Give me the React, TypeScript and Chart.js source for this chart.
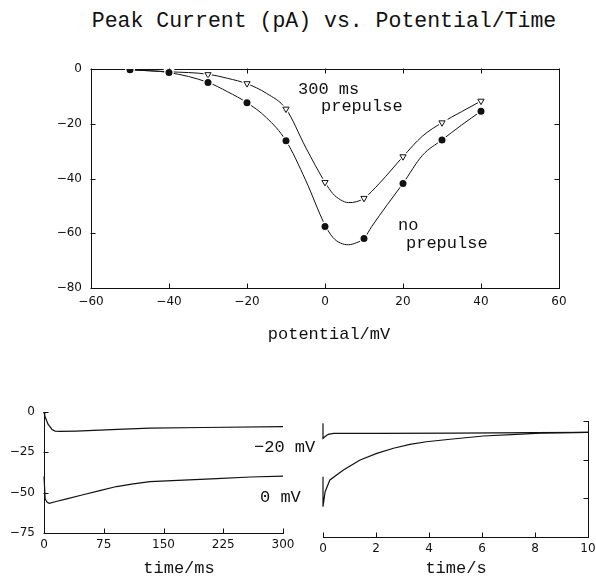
import React, { useEffect, useRef } from "react";
import { Chart, registerables } from "chart.js";
Chart.register(...registerables);

// ---------- Top panel: peak current vs potential ----------
const potentials = [-50, -40, -30, -20, -10, 0, 10, 20, 30, 40];
const noPrepulse = [-0.3, -1.3, -4.9, -12.3, -26.2, -57.5, -61.9, -41.8, -25.9, -15.4];
const prepulse300 = [-0.3, -1.0, -2.0, -5.3, -14.6, -41.4, -47.2, -32.0, -19.6, -11.7];

const noPrepulseFitX = [-50, -40, -30, -25, -20, -15, -10, -5, 0, 2, 4, 6, 8, 10, 12, 16, 20, 25, 30, 35, 40];
const noPrepulseFitY = [-0.3, -1.3, -4.9, -8.3, -12.3, -17.8, -26.2, -40.5, -57.0, -61.5, -63.6, -64.2, -63.5, -61.9, -57.5, -49.5, -41.8, -31.5, -25.9, -20.5, -15.4];
const prepulseFitX = [-50, -40, -30, -25, -20, -15, -10, -5, 0, 2, 4, 6, 8, 10, 14, 20, 25, 30, 35, 40];
const prepulseFitY = [-0.3, -1.0, -1.9, -3.4, -5.4, -8.9, -14.6, -28.5, -41.4, -45.5, -47.8, -48.8, -48.5, -47.2, -41.7, -32.0, -24.5, -19.6, -15.6, -11.7];

// ---------- Bottom-left panel: traces, time in ms ----------
const msTime20 = [0, 1, 3, 5, 7.5, 10, 14, 20, 40, 70, 100, 133, 200, 300];
const msCurrent20 = [0, -2.5, -5, -7.5, -9.1, -10.8, -11.8, -12, -11.8, -11.2, -10.6, -10, -9.6, -9.1];
const msTime0 = [0, 1.5, 4, 6.7, 15, 28.5, 49, 70, 91, 112, 133, 175, 217, 259, 300];
const msCurrent0 = [-40, -54, -56, -56.6, -55.5, -53.8, -51.3, -48.7, -46.2, -44.6, -43.2, -42.2, -41.3, -40.3, -39.7];

// ---------- Bottom-right panel: traces, time in s ----------
const sTime20 = [0, 0, 0.08, 0.2, 0.4, 2, 5, 8, 10];
const sCurrent20 = [-1.5, -11.2, -10, -8.6, -8, -8, -7.9, -7.5, -7.3];
const sTime0 = [0, 0, 0.08, 0.26, 0.77, 1.4, 2.03, 2.66, 3.28, 3.9, 4.8, 6.05, 7.3, 8.2, 10];
const sCurrent0 = [-36, -55.4, -45.7, -38.1, -31.7, -25.2, -20.9, -17.6, -15.1, -13.4, -11.8, -9.7, -8.6, -7.8, -7.3];

// tick labels
const topXTicks = [-60, -40, -20, 0, 20, 40, 60];
const topYTicks = [-80, -60, -40, -20, 0];
const msTicks = [0, 75, 150, 225, 300];
const sTicks = [0, 2, 4, 6, 8, 10];
const traceYTicks = [-75, -50, -25, 0];

const pts = (xs: number[], ys: number[]) => xs.map((x, i) => ({ x, y: ys[i] }));
const fmt = (v: number) => (v < 0 ? "\u2212" + Math.abs(v) : String(v));
const INK = "#111";
const TICK_FONT = { family: "'DejaVu Sans'", size: 12 };
const TICK_LEN = 5;

// draws short tick marks pointing into the plot area, at each tick of each scale
const inwardTicks = {
  id: "inwardTicks",
  afterDatasetsDraw(chart: any) {
    const ctx = chart.ctx;
    ctx.save();
    ctx.strokeStyle = INK;
    ctx.lineWidth = 1;
    ctx.beginPath();
    Object.values(chart.scales).forEach((s: any) => {
      if (!s.options.display) return;
      s.ticks.forEach((t: any) => {
        const p = Math.round(s.getPixelForValue(t.value)) + 0.5;
        if (s.position === "bottom") {
          const y = Math.round(s.top) + 0.5;
          ctx.moveTo(p, y);
          ctx.lineTo(p, y - TICK_LEN);
        } else if (s.position === "top") {
          const y = Math.round(s.bottom) - 0.5;
          ctx.moveTo(p, y);
          ctx.lineTo(p, y + TICK_LEN);
        } else if (s.position === "left") {
          const x = Math.round(s.right) - 0.5;
          ctx.moveTo(x, p);
          ctx.lineTo(x + TICK_LEN, p);
        } else {
          const x = Math.round(s.left) + 0.5;
          ctx.moveTo(x, p);
          ctx.lineTo(x - TICK_LEN, p);
        }
      });
    });
    ctx.stroke();
    ctx.restore();
  },
};

function axis(position: string, values: number[], showLabels: boolean, pad: number, size: number): any {
  const horizontal = position === "top" || position === "bottom";
  return {
    type: "linear",
    position,
    min: Math.min(...values),
    max: Math.max(...values),
    afterBuildTicks: (s: any) => {
      s.ticks = values.map((v) => ({ value: v }));
    },
    ticks: {
      display: showLabels,
      padding: pad,
      font: TICK_FONT,
      color: INK,
      autoSkip: false,
      maxRotation: 0,
      callback: (v: any) => fmt(Number(v)),
    },
    grid: { display: false, drawOnChartArea: false, drawTicks: false },
    border: { display: true, color: INK, width: 1 },
    afterFit: (s: any) => {
      if (horizontal) s.height = size;
      else s.width = size;
    },
  };
}

const baseOptions = (padding: any, scales: any): any => ({
  responsive: false,
  animation: false,
  events: [],
  layout: { padding, autoPadding: false },
  plugins: { legend: { display: false }, tooltip: { enabled: false }, title: { display: false } },
  scales,
});

const traceLine = (data: any[]) => ({
  data,
  showLine: true,
  borderColor: INK,
  borderWidth: 1.2,
  pointRadius: 0,
  tension: 0,
  clip: false as any,
});

export default function App() {
  const topRef = useRef<HTMLCanvasElement>(null);
  const blRef = useRef<HTMLCanvasElement>(null);
  const brRef = useRef<HTMLCanvasElement>(null);

  useEffect(() => {
    const charts: Chart[] = [];

    charts.push(
      new Chart(topRef.current!, {
        type: "scatter",
        plugins: [inwardTicks],
        data: {
          datasets: [
            {
              data: pts(noPrepulseFitX, noPrepulseFitY),
              showLine: true,
              borderColor: INK,
              borderWidth: 1,
              pointRadius: 0,
              cubicInterpolationMode: "monotone",
              order: 4,
            } as any,
            {
              data: pts(prepulseFitX, prepulseFitY),
              showLine: true,
              borderColor: INK,
              borderWidth: 1,
              pointRadius: 0,
              cubicInterpolationMode: "monotone",
              order: 4,
            } as any,
            {
              data: pts(potentials, prepulse300),
              pointStyle: "triangle",
              rotation: 180,
              pointRadius: 4,
              backgroundColor: "#fff",
              borderColor: "#fff",
              borderWidth: 3,
              order: 3,
            } as any,
            {
              data: pts(potentials, prepulse300),
              pointStyle: "triangle",
              rotation: 180,
              pointRadius: 3.6,
              backgroundColor: "#fff",
              borderColor: INK,
              borderWidth: 1,
              order: 1,
            } as any,
            {
              data: pts(potentials, noPrepulse),
              pointStyle: "circle",
              pointRadius: 4.2,
              backgroundColor: INK,
              borderColor: "#fff",
              borderWidth: 1.4,
              order: 0,
            } as any,
          ],
        },
        options: baseOptions(
          { left: 0, right: 37, top: 29, bottom: 0 },
          {
            x: axis("bottom", topXTicks, true, 7, 42),
            x2: axis("top", topXTicks, false, 0, 0),
            y: axis("left", topYTicks, true, 9, 91),
            y2: axis("right", topYTicks, false, 0, 0),
          }
        ),
      })
    );

    charts.push(
      new Chart(blRef.current!, {
        type: "scatter",
        plugins: [inwardTicks],
        data: {
          datasets: [traceLine(pts(msTime20, msCurrent20)), traceLine(pts(msTime0, msCurrent0))] as any,
        },
        options: baseOptions(
          { left: 0, right: 27, top: 17, bottom: 0 },
          {
            x: axis("bottom", msTicks, true, 5, 46),
            y: axis("left", traceYTicks, true, 9, 44),
          }
        ),
      })
    );

    charts.push(
      new Chart(brRef.current!, {
        type: "scatter",
        plugins: [inwardTicks],
        data: {
          datasets: [traceLine(pts(sTime20, sCurrent20)), traceLine(pts(sTime0, sCurrent0))] as any,
        },
        options: baseOptions(
          { left: 23, right: 14, top: 26, bottom: 0 },
          {
            x: axis("bottom", sTicks, true, 5, 42),
            y: axis("right", traceYTicks, false, 0, 8),
          }
        ),
      })
    );

    return () => charts.forEach((c) => c.destroy());
  }, []);

  const mono = "'Liberation Mono', 'DejaVu Sans Mono', monospace";
  const txt = (cx: number, cy: number, size: number, center = true): React.CSSProperties => ({
    position: "absolute",
    left: cx,
    top: cy,
    transform: center ? "translate(-50%, -50%)" : "translate(0, -50%)",
    whiteSpace: "pre",
    fontFamily: mono,
    fontSize: size,
    lineHeight: 1,
    color: INK,
  });

  return (
    <div
      style={{
        position: "absolute",
        left: 0,
        top: 0,
        width: 596,
        height: 579,
        background: "#fff",
        overflow: "hidden",
      }}
    >
      <canvas ref={topRef} width={596} height={290} style={{ position: "absolute", left: 0, top: 40, width: 596, height: 290 }} />
      <canvas ref={blRef} width={310} height={184} style={{ position: "absolute", left: 0, top: 395, width: 310, height: 184 }} />
      <canvas ref={brRef} width={310} height={184} style={{ position: "absolute", left: 300, top: 395, width: 310, height: 184 }} />

      <div style={txt(324, 22, 21.5)}>Peak Current (pA) vs. Potential/Time</div>
      <div style={txt(329, 334, 17)}>potential/mV</div>
      <div style={txt(298, 89, 17, false)}>300 ms</div>
      <div style={txt(321, 106, 17, false)}>prepulse</div>
      <div style={txt(398, 225, 17, false)}>no</div>
      <div style={txt(406, 243, 17, false)}>prepulse</div>
      <div style={txt(254, 447, 17, false)}>{"\u221220 mV"}</div>
      <div style={txt(260, 497, 17, false)}>0 mV</div>
      <div style={txt(179, 568, 17)}>time/ms</div>
      <div style={txt(456, 568, 17)}>time/s</div>
    </div>
  );
}
